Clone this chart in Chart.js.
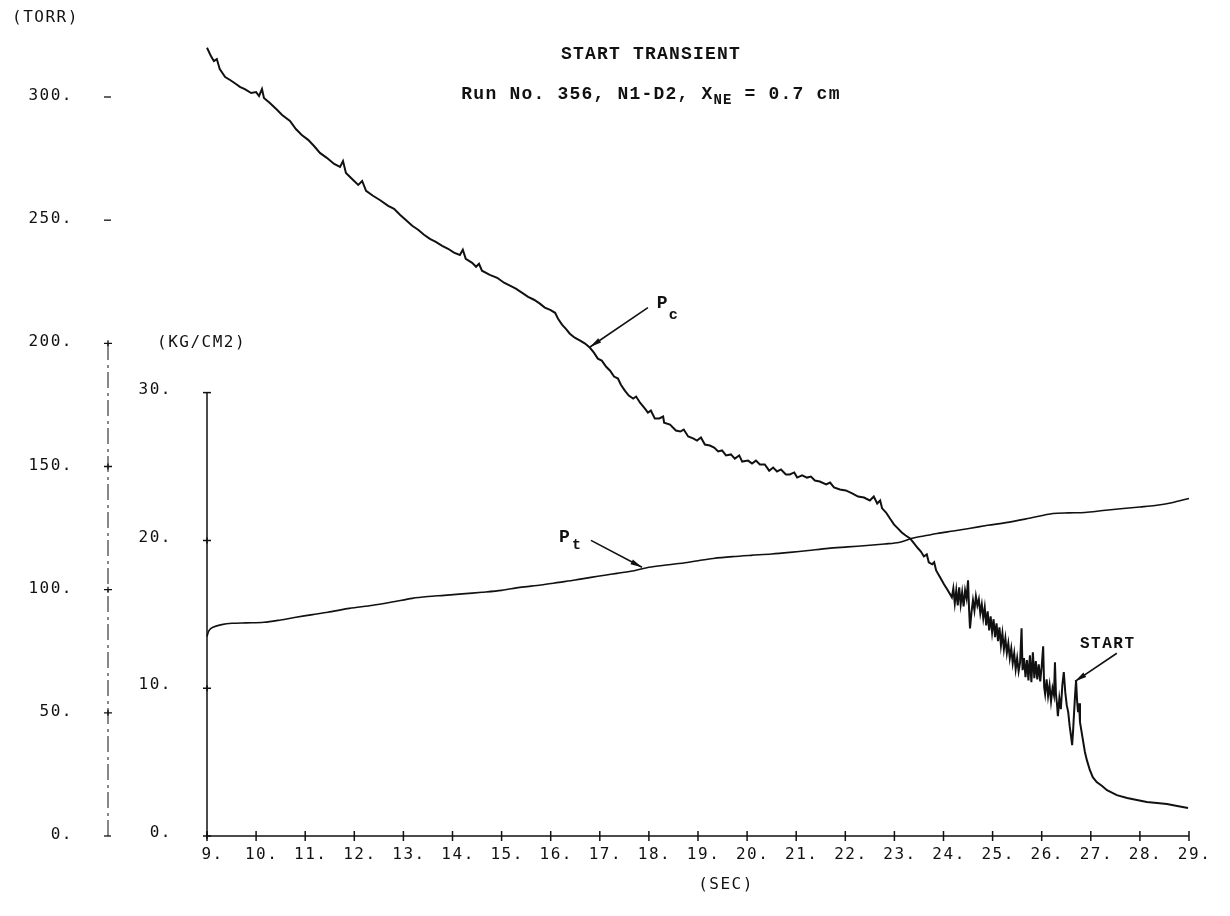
<!DOCTYPE html>
<html>
<head>
<meta charset="utf-8">
<title>Start transient</title>
<script src="https://cdn.jsdelivr.net/npm/chart.js@4.4.1/dist/chart.umd.min.js"></script>
<style>
  body { margin: 0; background: #fff; }
  canvas { display: block; }
</style>
</head>
<body>
<canvas id="transientChart" width="1230" height="916"></canvas>
<script>
// chamber pressure Pc (torr) vs time (sec)
var pcTime = [
  9.00, 9.08, 9.14, 9.20, 9.26, 9.37, 9.47, 9.59, 9.67, 9.77, 9.90, 10.00, 10.06, 10.12, 10.16,
  10.28, 10.41, 10.53, 10.69, 10.81, 10.93, 11.06, 11.18, 11.30, 11.44, 11.59, 11.71, 11.77, 11.83,
  11.95, 12.08, 12.16, 12.24, 12.38, 12.52, 12.69, 12.81, 12.93, 13.05, 13.18, 13.30, 13.42, 13.54,
  13.66, 13.79, 13.91, 14.03, 14.15, 14.21, 14.27, 14.40, 14.48, 14.54, 14.60,
  14.76, 14.91, 15.05, 15.17, 15.29, 15.42, 15.54, 15.66, 15.78, 15.88, 15.99, 16.09, 16.15, 16.23,
  16.31, 16.39, 16.49, 16.60, 16.70, 16.80, 16.88, 16.96, 17.04, 17.13, 17.21, 17.29, 17.37, 17.43,
  17.51, 17.59, 17.68, 17.74, 17.82, 17.92, 17.98, 18.04, 18.12, 18.21, 18.29, 18.31, 18.43, 18.55,
  18.64, 18.71, 18.80, 18.90, 18.98, 19.06, 19.14, 19.24, 19.33, 19.41, 19.49, 19.57, 19.67, 19.75,
  19.84, 19.90, 20.02, 20.10, 20.18, 20.26, 20.36, 20.45, 20.53, 20.61, 20.69, 20.79, 20.87, 20.96,
  21.02, 21.12, 21.22, 21.30, 21.38, 21.48, 21.61, 21.69, 21.77, 21.89, 22.01, 22.14, 22.26, 22.38,
  22.50, 22.58, 22.65, 22.71, 22.75, 22.83, 22.91, 22.99, 23.07, 23.15, 23.23, 23.32, 23.40, 23.48,
  23.54, 23.60, 23.66, 23.70, 23.77, 23.81, 23.85, 23.93, 24.01, 24.09,
  24.17, 24.20, 24.23, 24.26, 24.29, 24.32, 24.35, 24.38, 24.41, 24.44, 24.47, 24.50, 24.52, 24.54,
  24.57, 24.60, 24.63, 24.66, 24.69, 24.72, 24.75, 24.78, 24.81, 24.84, 24.87, 24.90, 24.93, 24.96,
  24.99, 25.02, 25.05, 25.08, 25.11, 25.14, 25.17, 25.20, 25.23, 25.26, 25.29, 25.32, 25.35, 25.38,
  25.41, 25.44, 25.47, 25.50, 25.53, 25.56, 25.59, 25.61, 25.64, 25.67, 25.70, 25.73, 25.76, 25.79,
  25.82, 25.85, 25.88, 25.91, 25.94, 25.97, 26.00, 26.03, 26.05, 26.07, 26.10, 26.13, 26.16, 26.19,
  26.22, 26.25, 26.27, 26.29, 26.31, 26.33, 26.36, 26.39, 26.42, 26.45, 26.48, 26.51, 26.54, 26.57,
  26.60, 26.62, 26.64, 26.66, 26.68, 26.70, 26.72, 26.74, 26.76, 26.78,
  26.84, 26.88, 26.92, 26.98, 27.04, 27.12, 27.23, 27.33, 27.53, 27.74, 27.94, 28.14, 28.35, 28.55,
  28.76, 28.98
];
var pcTorr = [
  320.0, 316.6, 314.6, 315.4, 311.3, 308.1, 306.9, 305.3, 304.1, 303.2, 301.6, 302.0, 300.4, 303.2, 299.6,
  297.6, 295.1, 292.7, 290.3, 287.0, 284.6, 282.6, 280.1, 277.3, 275.3, 272.8, 271.6, 274.0, 269.2,
  266.8, 264.3, 265.9, 261.9, 259.9, 258.2, 255.8, 254.6, 252.2, 250.1, 247.7, 246.1, 244.1, 242.4,
  241.2, 239.6, 238.4, 236.8, 235.9, 238.0, 234.3, 232.7, 231.1, 232.3, 229.5,
  227.8, 226.6, 224.6, 223.4, 222.2, 220.5, 218.9, 217.7, 216.1, 214.5, 213.6, 212.4, 210.0, 207.6,
  205.9, 203.9, 202.3, 201.1, 199.9, 198.2, 196.2, 193.8, 193.0, 190.5, 188.9, 186.5, 185.7, 183.2,
  180.8, 178.8, 177.6, 178.4, 175.9, 173.5, 171.9, 172.7, 169.5, 169.5, 170.3, 167.8, 167.0, 164.6,
  164.2, 165.0, 162.2, 161.4, 160.5, 161.8, 158.9, 158.5, 157.7, 156.1, 156.5, 154.5, 154.9, 153.2,
  154.5, 152.0, 152.4, 151.2, 152.4, 150.8, 150.8, 148.3, 149.6, 148.0, 148.8, 146.8, 146.8, 147.6,
  145.5, 146.4, 145.5, 145.9, 144.3, 143.9, 142.7, 143.5, 141.5, 140.7, 140.3, 139.1, 137.8, 137.4,
  136.2, 137.8, 135.0, 136.2, 133.0, 131.3, 128.9, 126.5, 124.9, 123.2, 122.0, 120.8, 118.8, 116.8,
  115.5, 113.5, 114.3, 111.1, 110.3, 111.1, 107.8, 105.0, 102.2, 99.7,
  96.9, 100.5, 94.4, 99.7, 93.6, 100.9, 94.0, 98.9, 93.2, 99.7, 96.5, 103.8, 92.4, 84.3,
  90.8, 95.7, 91.6, 97.3, 93.6, 96.1, 90.4, 94.0, 88.4, 92.8, 85.5, 91.2, 83.5, 89.2,
  82.7, 88.0, 80.7, 86.3, 79.1, 84.7, 77.4, 82.3, 75.8, 80.3, 74.2, 78.2, 72.2, 76.2,
  70.1, 74.2, 67.7, 72.2, 66.9, 70.5, 84.3, 67.3, 72.2, 64.5, 71.4, 63.2, 73.4, 62.4,
  74.6, 64.1, 71.0, 63.6, 69.7, 62.8, 68.9, 77.0, 60.4, 57.6, 63.6, 56.8, 61.2, 54.7,
  60.0, 57.2, 70.5, 57.6, 53.9, 48.6, 55.9, 51.5, 61.2, 66.5, 58.4, 53.1, 50.3, 44.6,
  40.1, 36.9, 43.0, 50.3, 57.2, 63.2, 55.1, 50.3, 53.9, 46.2,
  38.9, 34.1, 30.8, 26.8, 23.9, 21.9, 20.3, 18.6, 16.6, 15.4, 14.6, 13.8, 13.4, 13.0,
  12.2, 11.4
];

// throat pressure Pt (kg/cm2) vs time (sec)
var ptTime = [
  9.00, 9.04, 9.12, 9.30, 9.51, 9.80, 10.16, 10.50, 10.81, 11.15, 11.46, 11.90, 12.38, 12.80,
  13.18, 13.50, 13.83, 14.20, 14.60, 15.00, 15.37, 15.80, 16.17, 16.50, 16.82, 17.10, 17.35,
  17.70, 18.00, 18.40, 18.78, 19.05, 19.31, 19.70, 20.08, 20.50, 20.87, 21.25, 21.65, 22.05,
  22.44, 22.80, 23.09, 23.36, 23.60, 23.87, 24.20, 24.52, 24.90, 25.31, 25.75, 26.23, 26.55,
  26.88, 27.25, 27.66, 28.00, 28.31, 28.65, 29.00
];
var ptKg = [
  13.50, 13.90, 14.12, 14.30, 14.39, 14.42, 14.46, 14.62, 14.80, 14.98, 15.14, 15.40, 15.61, 15.85,
  16.08, 16.20, 16.28, 16.38, 16.49, 16.62, 16.82, 16.98, 17.16, 17.32, 17.50, 17.64, 17.77,
  17.95, 18.18, 18.35, 18.51, 18.66, 18.78, 18.90, 18.99, 19.08, 19.19, 19.32, 19.46, 19.56,
  19.66, 19.76, 19.86, 20.14, 20.30, 20.47, 20.64, 20.81, 21.02, 21.22, 21.50, 21.82, 21.86,
  21.89, 22.02, 22.16, 22.26, 22.36, 22.55, 22.84
];

var secTicks = [9, 10, 11, 12, 13, 14, 15, 16, 17, 18, 19, 20, 21, 22, 23, 24, 25, 26, 27, 28, 29];
var torrTicks = [0, 50, 100, 150, 200, 250, 300];
var kgTicks = [0, 10, 20, 30];

// curve labels: [time, value] for tail, tip and text anchor
var pcNote = { tail: [17.98, 214.5], tip: [16.80, 198.5], text: [18.16, 214.5] };
var ptNote = { tail: [16.82, 20.0], tip: [17.86, 18.18], text: [16.17, 19.86] };
var startNote = { tail: [27.53, 74.2], tip: [26.68, 62.8], text: [26.78, 76.2] };

document.addEventListener("DOMContentLoaded", function() {

    var plotFont = '"DejaVu Sans Mono", monospace';
    var typeFont = '"Liberation Mono", "DejaVu Sans Mono", monospace';

    function points(xs, ys) {
        return xs.map(function(x, i) { return { x: x, y: ys[i] }; });
    }

    function arrow(ctx, x0, y0, x1, y1) {
        var ang = Math.atan2(y1 - y0, x1 - x0);
        ctx.beginPath();
        ctx.moveTo(x0, y0);
        ctx.lineTo(x1, y1);
        ctx.stroke();
        ctx.beginPath();
        ctx.moveTo(x1, y1);
        ctx.lineTo(x1 - 12 * Math.cos(ang - 0.22), y1 - 12 * Math.sin(ang - 0.22));
        ctx.lineTo(x1 - 12 * Math.cos(ang + 0.22), y1 - 12 * Math.sin(ang + 0.22));
        ctx.closePath();
        ctx.fill();
    }

    function cross(ctx, x, y, h, v) {
        ctx.beginPath();
        ctx.moveTo(x - h, y);
        ctx.lineTo(x + h, y);
        ctx.moveTo(x, y - v);
        ctx.lineTo(x, y + v);
        ctx.stroke();
    }

    var plotterAxes = {
        id: 'plotterAxes',
        afterDatasetsDraw: function(chart) {
            var ctx = chart.ctx;
            var sx = chart.scales.x, st = chart.scales.torr, sk = chart.scales.kg;
            var area = chart.chartArea;
            var torrX = area.left - 99;
            var base = area.bottom;

            ctx.save();
            ctx.strokeStyle = '#111';
            ctx.fillStyle = '#111';
            ctx.lineWidth = 1.3;

            // torr axis, broken line up to 200
            ctx.save();
            ctx.setLineDash([16, 4, 3, 5]);
            ctx.lineWidth = 1;
            ctx.beginPath();
            ctx.moveTo(torrX, st.getPixelForValue(0));
            ctx.lineTo(torrX, st.getPixelForValue(200));
            ctx.stroke();
            ctx.restore();
            torrTicks.forEach(function(v) {
                var y = st.getPixelForValue(v);
                if (v > 0 && v <= 200) cross(ctx, torrX, y, 4, 3);
                else {
                    ctx.beginPath();
                    ctx.moveTo(torrX - 4, y);
                    ctx.lineTo(torrX + 3, y);
                    ctx.stroke();
                }
            });

            // kg/cm2 axis
            ctx.lineWidth = 1.5;
            ctx.beginPath();
            ctx.moveTo(area.left, sk.getPixelForValue(0));
            ctx.lineTo(area.left, sk.getPixelForValue(30));
            ctx.stroke();
            kgTicks.forEach(function(v) {
                var y = sk.getPixelForValue(v);
                if (v === 30) {
                    ctx.beginPath();
                    ctx.moveTo(area.left - 4, y);
                    ctx.lineTo(area.left + 4, y);
                    ctx.stroke();
                } else cross(ctx, area.left, y, 4, 3);
            });

            // time axis
            ctx.beginPath();
            ctx.moveTo(sx.getPixelForValue(9), base);
            ctx.lineTo(sx.getPixelForValue(29), base);
            ctx.stroke();
            secTicks.forEach(function(v) {
                cross(ctx, sx.getPixelForValue(v), base, 0, 5);
            });

            // tick labels
            ctx.font = '16px ' + plotFont;
            ctx.letterSpacing = '1.5px';
            ctx.textBaseline = 'middle';
            ctx.textAlign = 'right';
            torrTicks.forEach(function(v) {
                ctx.fillText(v + '.', torrX - 35, st.getPixelForValue(v) - 1);
            });
            kgTicks.forEach(function(v) {
                ctx.fillText(v + '.', area.left - 35, sk.getPixelForValue(v) - 3);
            });
            ctx.textAlign = 'left';
            ctx.textBaseline = 'top';
            secTicks.forEach(function(v) {
                var num = String(v);
                var w = ctx.measureText(num).width;
                ctx.fillText(num + '.', sx.getPixelForValue(v) - w / 2, base + 11);
            });

            // axis titles
            ctx.textBaseline = 'middle';
            ctx.fillText('(TORR)', 12, 18);
            ctx.fillText('(KG/CM2)', 157, st.getPixelForValue(200));
            ctx.textAlign = 'center';
            ctx.fillText('(SEC)', (area.left + area.right) / 2 + 28, base + 49);

            // headings
            ctx.font = 'bold 18px ' + typeFont;
            ctx.letterSpacing = '1.2px';
            ctx.textBaseline = 'alphabetic';
            ctx.fillText('START TRANSIENT', 651, 59);
            var lead = 'Run No. 356, N1-D2, X';
            var sub = 'NE';
            var tail = ' = 0.7 cm';
            ctx.textAlign = 'left';
            var wLead = ctx.measureText(lead).width;
            var wTail = ctx.measureText(tail).width;
            ctx.font = 'bold 14px ' + typeFont;
            var wSub = ctx.measureText(sub).width;
            var x0 = 651 - (wLead + wSub + wTail) / 2;
            ctx.font = 'bold 18px ' + typeFont;
            ctx.fillText(lead, x0, 99);
            ctx.fillText(tail, x0 + wLead + wSub, 99);
            ctx.font = 'bold 14px ' + typeFont;
            ctx.fillText(sub, x0 + wLead, 104);

            // curve notes
            ctx.lineWidth = 1.6;
            arrow(ctx, sx.getPixelForValue(pcNote.tail[0]), st.getPixelForValue(pcNote.tail[1]),
                sx.getPixelForValue(pcNote.tip[0]), st.getPixelForValue(pcNote.tip[1]));
            arrow(ctx, sx.getPixelForValue(ptNote.tail[0]), sk.getPixelForValue(ptNote.tail[1]),
                sx.getPixelForValue(ptNote.tip[0]), sk.getPixelForValue(ptNote.tip[1]));
            arrow(ctx, sx.getPixelForValue(startNote.tail[0]), st.getPixelForValue(startNote.tail[1]),
                sx.getPixelForValue(startNote.tip[0]), st.getPixelForValue(startNote.tip[1]));

            var px = sx.getPixelForValue(pcNote.text[0]), py = st.getPixelForValue(pcNote.text[1]);
            ctx.font = 'bold 18px ' + typeFont;
            ctx.fillText('P', px, py);
            ctx.font = 'bold 15px ' + typeFont;
            ctx.fillText('c', px + 12, py + 11);

            px = sx.getPixelForValue(ptNote.text[0]);
            py = sk.getPixelForValue(ptNote.text[1]);
            ctx.font = 'bold 18px ' + typeFont;
            ctx.fillText('P', px, py);
            ctx.font = 'bold 15px ' + typeFont;
            ctx.fillText('t', px + 13, py + 7);

            ctx.font = 'bold 16px ' + typeFont;
            ctx.letterSpacing = '1.5px';
            ctx.fillText('START', sx.getPixelForValue(startNote.text[0]), st.getPixelForValue(startNote.text[1]));
            ctx.restore();
        }
    };

    var ctx = document.getElementById('transientChart').getContext('2d');
    var chart = new Chart(ctx, {
        type: 'line',
        data: {
            datasets: [{
                label: 'Pc',
                data: points(pcTime, pcTorr),
                yAxisID: 'torr',
                borderColor: '#111',
                borderWidth: 2,
                pointRadius: 0,
                tension: 0,
                clip: false
            }, {
                label: 'Pt',
                data: points(ptTime, ptKg),
                yAxisID: 'kg',
                borderColor: '#111',
                borderWidth: 1.6,
                pointRadius: 0,
                tension: 0.3,
                clip: false
            }]
        },
        options: {
            responsive: false,
            animation: false,
            events: [],
            layout: { padding: { left: 207, right: 41, top: 97, bottom: 80 } },
            plugins: { legend: { display: false }, tooltip: { enabled: false } },
            scales: {
                x: { type: 'linear', min: 9, max: 29, display: false },
                torr: { type: 'linear', position: 'left', min: 0, max: 300, display: false },
                kg: { type: 'linear', position: 'left', min: 0, max: 50, display: false }
            }
        },
        plugins: [plotterAxes]
    });
});
</script>
</body>
</html>
